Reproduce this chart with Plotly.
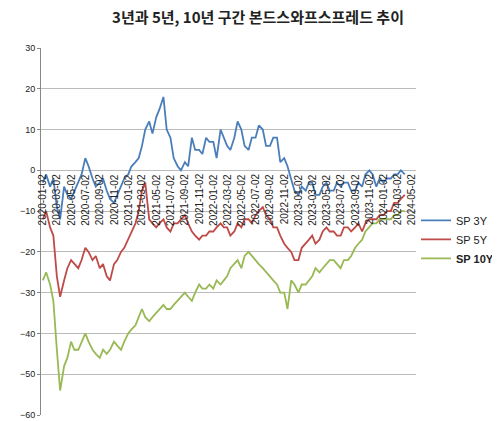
import plotly.graph_objects as go

# semi-monthly sample dates
dates = []
for y in range(2020, 2025):
    for m in range(1, 13):
        if y == 2024 and m > 5:
            break
        dates.append(f"{y}-{m:02d}-02")
        if not (y == 2024 and m == 5):
            dates.append(f"{y}-{m:02d}-16")

sp3 = [-3,-1, -4,-2, -9,-12, -4,-6, -7,-5, -3,-1, 3,1, -2,-4, -3,-2, -5,-7,
       -8,-6, -4,-2, -1,1, 2,3, 6,10, 12,9, 13,15, 18,10, 8,3, 1,0,
       2,1, 8,5, 5,4, 8,7, 7,3, 10,8, 6,5, 8,12, 10,6, 5,8, 8,11,
       10,6, 6,8, 8,2, 3,1, -2,-5, -6,-4, -5,-3, -3,-6, -6,-4, -3,-5,
       -5,-3, -4,-3, -3,-5, -5,-3, -4,-1, 0,-1, -4,-2, -3,-2, -2,-1, -1,0, -1]
sp5 = [-12,-10, -14,-16, -26,-31, -27,-24, -22,-23, -24,-22, -19,-20, -22,-21, -24,-23, -26,-27,
       -23,-22, -20,-19, -17,-15, -13,-10, -5,-3, -12,-13, -14,-13, -12,-14, -15,-13, -13,-12,
       -11,-13, -15,-16, -17,-16, -16,-15, -15,-14, -13,-14, -14,-16, -15,-13, -14,-12, -12,-13,
       -11,-10, -9,-11, -12,-14, -14,-16, -18,-19, -20,-22, -22,-19, -18,-17, -16,-18, -17,-15,
       -14,-15, -15,-16, -16,-14, -14,-15, -14,-13, -15,-13, -12,-12, -12,-11, -11,-10, -10,-8, -8,-7, -6]
sp10 = [-27,-25, -28,-32, -44,-54, -48,-46, -42,-44, -44,-42, -40,-42, -44,-45, -46,-44, -45,-44,
        -42,-43, -44,-42, -40,-39, -38,-36, -34,-36, -37,-36, -35,-34, -33,-34, -34,-33, -32,-31,
        -30,-31, -32,-30, -28,-29, -29,-28, -29,-27, -28,-27, -26,-24, -23,-22, -24,-21, -20,-21,
        -22,-23, -24,-25, -26,-27, -28,-30, -30,-34, -27,-28, -30,-28, -28,-27, -26,-24, -25,-24,
        -23,-22, -22,-23, -24,-22, -22,-21, -19,-18, -17,-15, -14,-13, -13,-12, -12,-12, -12,-11, -11,-10, -10]

tick_labels = []
for y in range(2020, 2025):
    for m in range(1, 13, 2):
        if y == 2024 and m > 5:
            break
        tick_labels.append(f"{y}-{m:02d}-02")

fig = go.Figure()
for name, vals, col in [("SP 3Y", sp3, "#4a7ebb"), ("SP 5Y", sp5, "#be4b48"), ("<b>SP 10Y</b>", sp10, "#98b954")]:
    fig.add_trace(go.Scatter(x=dates, y=vals, name=name, mode="lines",
                             line=dict(color=col, width=1.8)))

for t in tick_labels:
    fig.add_annotation(x=t, y=-0.3, xref="x", yref="y", text=t, textangle=-90,
                       showarrow=False, xanchor="center", yanchor="top",
                       font=dict(size=10, color="#222"))

fig.update_layout(
    width=500, height=421, plot_bgcolor="white", paper_bgcolor="white",
    margin=dict(l=33, r=60, t=40, b=9),
    title=dict(text="<b>3년과 5년, 10년 구간 본드스와프스프레드 추이</b>", x=0.5, y=0.99,
               xanchor="center", yanchor="top",
               font=dict(size=15, color="#222", family="Noto Sans CJK KR")),
    font=dict(family="Liberation Sans", size=10, color="#222"),
    legend=dict(x=1.0, y=0.57, xanchor="left", yanchor="top", bgcolor="rgba(0,0,0,0)",
                font=dict(size=11), tracegroupgap=4),
    showlegend=True,
)
fig.update_xaxes(showticklabels=False, showgrid=False, range=["2019-12-25", "2024-05-20"],
                 showline=False, zeroline=False)
fig.update_yaxes(range=[-60, 30], dtick=10, showgrid=True, gridcolor="#bbbbbb",
                 zeroline=False, showline=True, linecolor="#888", ticks="outside",
                 ticklen=3, tickcolor="#888", tickfont=dict(size=9))
fig.write_html("out.html")
